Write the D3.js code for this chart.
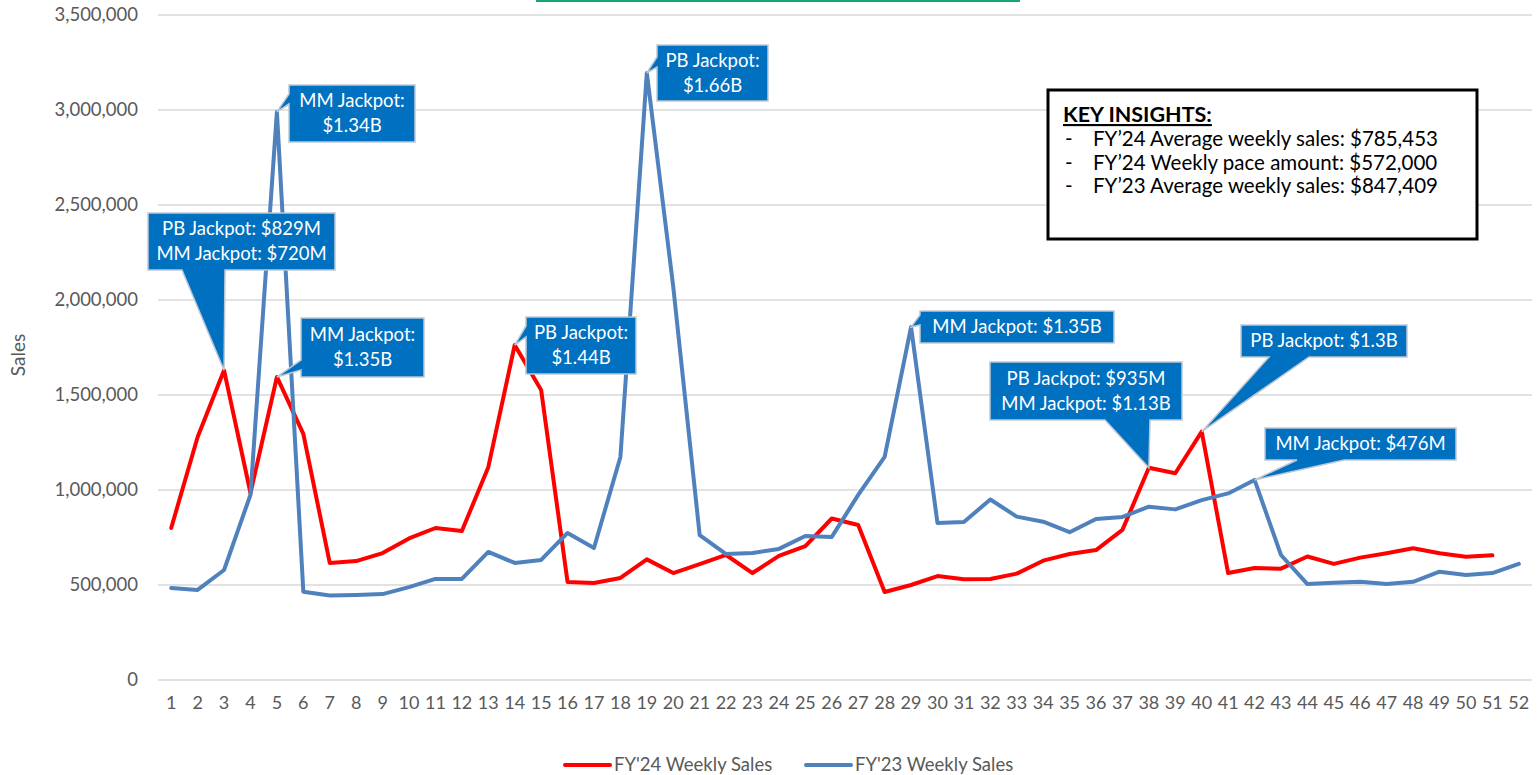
<!DOCTYPE html>
<html>
<head>
<meta charset="utf-8">
<script src="https://cdn.jsdelivr.net/npm/d3@7"></script>
<style>
  html, body { margin: 0; padding: 0; background: #fff; }
  svg { display: block; }
  text { font-family: Lato, "Open Sans", sans-serif; }
</style>
</head>
<body>
<svg id="chart" width="1539" height="775"></svg>
<script>
// ---------------- data ----------------
const weeks = d3.range(1, 53);
const yTicks = [0, 500000, 1000000, 1500000, 2000000, 2500000, 3000000, 3500000];
const seriesNames = ["FY'24 Weekly Sales", "FY'23 Weekly Sales"];

const fy24 = [800000, 1279000, 1630000, 984000, 1595000, 1295000, 616000, 626000, 668000, 745000,
              800000, 784000, 1120000, 1763000, 1526000, 516000, 511000, 537000, 635000, 563000,
              610000, 658000, 563000, 653000, 705000, 850000, 816000, 463000, 500000, 547000,
              530000, 532000, 560000, 628000, 663000, 684000, 790000, 1117000, 1088000, 1307000,
              563000, 589000, 586000, 650000, 611000, 644000, 667000, 693000, 667000, 649000,
              656000];
const fy23 = [484000, 474000, 579000, 975000, 2990000, 465000, 445000, 447000, 452000, 489000,
              532000, 532000, 674000, 616000, 632000, 774000, 695000, 1174000, 3195000, 2070000,
              763000, 663000, 668000, 690000, 758000, 753000, 974000, 1174000, 1858000, 826000,
              832000, 950000, 860000, 833000, 778000, 847000, 858000, 912000, 898000, 947000,
              982000, 1053000, 658000, 505000, 512000, 517000, 505000, 517000, 570000, 553000,
              563000, 611000];

const insightTitle = "KEY INSIGHTS:";
const insights = [
  "FY\u201924 Average weekly sales: $785,453",
  "FY\u201924 Weekly pace amount: $572,000",
  "FY\u201923 Average weekly sales: $847,409"
];

// callouts: week + series (0 = FY'24, 1 = FY'23) + text lines
const callouts = [
  { week: 3,  s: 0, lines: ["PB Jackpot: $829M", "MM Jackpot: $720M"] },
  { week: 5,  s: 1, lines: ["MM Jackpot:", "$1.34B"] },
  { week: 5,  s: 0, lines: ["MM Jackpot:", "$1.35B"] },
  { week: 14, s: 0, lines: ["PB Jackpot:", "$1.44B"] },
  { week: 19, s: 1, lines: ["PB Jackpot:", "$1.66B"] },
  { week: 29, s: 1, lines: ["MM Jackpot: $1.35B"] },
  { week: 38, s: 0, lines: ["PB Jackpot: $935M", "MM Jackpot: $1.13B"] },
  { week: 40, s: 0, lines: ["PB Jackpot: $1.3B"] },
  { week: 42, s: 1, lines: ["MM Jackpot: $476M"] }
];
// callout box layout (pixels): x, y, w, h, wedge side, wedge base (along edge, absolute)
const calloutLayout = [
  { x: 148,  y: 213, w: 187, h: 57, side: "bottom", b1: 182,  b2: 225 },
  { x: 289,  y: 85,  w: 126, h: 57, side: "left",   b1: 94,   b2: 104 },
  { x: 301,  y: 318, w: 123, h: 59, side: "left",   b1: 360,  b2: 370 },
  { x: 526,  y: 317, w: 110, h: 57, side: "left",   b1: 326,  b2: 337 },
  { x: 657,  y: 45,  w: 111, h: 56, side: "left",   b1: 57,   b2: 67 },
  { x: 920,  y: 311, w: 194, h: 32, side: "left",   b1: 315,  b2: 325 },
  { x: 990,  y: 362, w: 192, h: 58, side: "bottom", b1: 1105, b2: 1150 },
  { x: 1241, y: 325, w: 166, h: 32, side: "bottom", b1: 1269, b2: 1309 },
  { x: 1265, y: 428, w: 191, h: 32, side: "bottom", b1: 1297, b2: 1344 }
];

// ---------------- chart ----------------
const svg = d3.select("#chart");
const plot = { left: 158, right: 1532, top: 15, bottom: 680 };

const x = d3.scaleBand().domain(weeks).range([plot.left, plot.right]);
const xc = w => x(w) + x.bandwidth() / 2;
const y = d3.scaleLinear().domain([0, 3500000]).range([plot.bottom, plot.top]);

// top green border fragment
svg.append("rect").attr("x", 536).attr("y", 0).attr("width", 484).attr("height", 2)
  .attr("fill", "#16a870");

// gridlines
svg.append("g").selectAll("line").data(yTicks).join("line")
  .attr("x1", plot.left).attr("x2", plot.right)
  .attr("y1", d => y(d)).attr("y2", d => y(d))
  .attr("stroke", "#d9d9d9").attr("stroke-width", 1.5);

// y axis labels
const yAxis = d3.axisLeft(y).tickValues(yTicks).tickFormat(d3.format(",")).tickSize(0).tickPadding(0);
const gy = svg.append("g").attr("transform", `translate(${plot.left - 20},0)`).call(yAxis);
gy.select(".domain").remove();
gy.selectAll("text").attr("fill", "#595959").style("font-size", "18.5px")
  .style("font-family", "Lato, sans-serif");

// x axis labels
const xAxis = d3.axisBottom(x).tickSize(0).tickPadding(0);
const gx = svg.append("g").attr("transform", `translate(0,${plot.bottom + 16})`).call(xAxis);
gx.select(".domain").remove();
gx.selectAll("text").attr("fill", "#595959").style("font-size", "18px")
  .style("font-family", "Lato, sans-serif");

// y axis title
svg.append("text").attr("transform", `translate(25,355) rotate(-90)`)
  .attr("text-anchor", "middle").attr("fill", "#595959").style("font-size", "19px")
  .text("Sales");

// lines
const colors = ["#ff0000", "#4f81bd"];
const line = d3.line().x((d, i) => xc(weeks[i])).y(d => y(d)).curve(d3.curveLinear);
[fy24, fy23].forEach((arr, k) => {
  svg.append("path").datum(arr).attr("d", line)
    .attr("fill", "none").attr("stroke", colors[k]).attr("stroke-width", 4)
    .attr("stroke-linejoin", "round").attr("stroke-linecap", "round");
});

// callouts
const seriesData = [fy24, fy23];
callouts.forEach((c, i) => {
  const L = calloutLayout[i];
  const ax = xc(c.week), ay = y(seriesData[c.s][c.week - 1]);
  const x0 = L.x, y0 = L.y, x1 = L.x + L.w, y1 = L.y + L.h;
  let p;
  if (L.side === "bottom") {
    p = `M${x0},${y0}H${x1}V${y1}H${L.b2}L${ax},${ay}L${L.b1},${y1}H${x0}Z`;
  } else {
    p = `M${x0},${y0}H${x1}V${y1}H${x0}V${L.b2}L${ax},${ay}L${x0},${L.b1}Z`;
  }
  const g = svg.append("g");
  g.append("path").attr("d", p).attr("fill", "#0070c0")
    .attr("stroke", "#bdc7d3").attr("stroke-width", 1.5).attr("stroke-linejoin", "miter");
  const lh = 25;
  const cy = (y0 + y1) / 2 - (c.lines.length - 1) * lh / 2;
  c.lines.forEach((t, j) => {
    g.append("text").attr("x", (x0 + x1) / 2).attr("y", cy + j * lh)
      .attr("dy", "0.35em").attr("text-anchor", "middle")
      .attr("fill", "#ffffff").style("font-size", "18.5px").text(t);
  });
});

// key insights box
const kb = svg.append("g");
kb.append("rect").attr("x", 1048).attr("y", 90).attr("width", 429).attr("height", 149)
  .attr("fill", "#ffffff").attr("stroke", "#000000").attr("stroke-width", 3);
kb.append("text").attr("x", 1063).attr("y", 122).attr("fill", "#000")
  .style("font-size", "21.5px").style("font-weight", "bold")
  .style("text-decoration", "underline").text(insightTitle);
insights.forEach((t, j) => {
  const by = 146 + j * 23.5;
  kb.append("text").attr("x", 1065).attr("y", by).attr("fill", "#000")
    .style("font-size", "20.5px").text("-");
  kb.append("text").attr("x", 1093).attr("y", by).attr("fill", "#000")
    .style("font-size", "20.5px").text(t);
});

// legend
const legendItems = [
  { name: seriesNames[0], color: colors[0], x: 565 },
  { name: seriesNames[1], color: colors[1], x: 806 }
];
const lg = svg.append("g");
legendItems.forEach(d => {
  lg.append("line").attr("x1", d.x).attr("x2", d.x + 45).attr("y1", 765).attr("y2", 765)
    .attr("stroke", d.color).attr("stroke-width", 4).attr("stroke-linecap", "round");
  lg.append("text").attr("x", d.x + 49).attr("y", 765).attr("dy", "0.35em")
    .attr("fill", "#595959").style("font-size", "18.5px").text(d.name);
});
</script>
</body>
</html>
